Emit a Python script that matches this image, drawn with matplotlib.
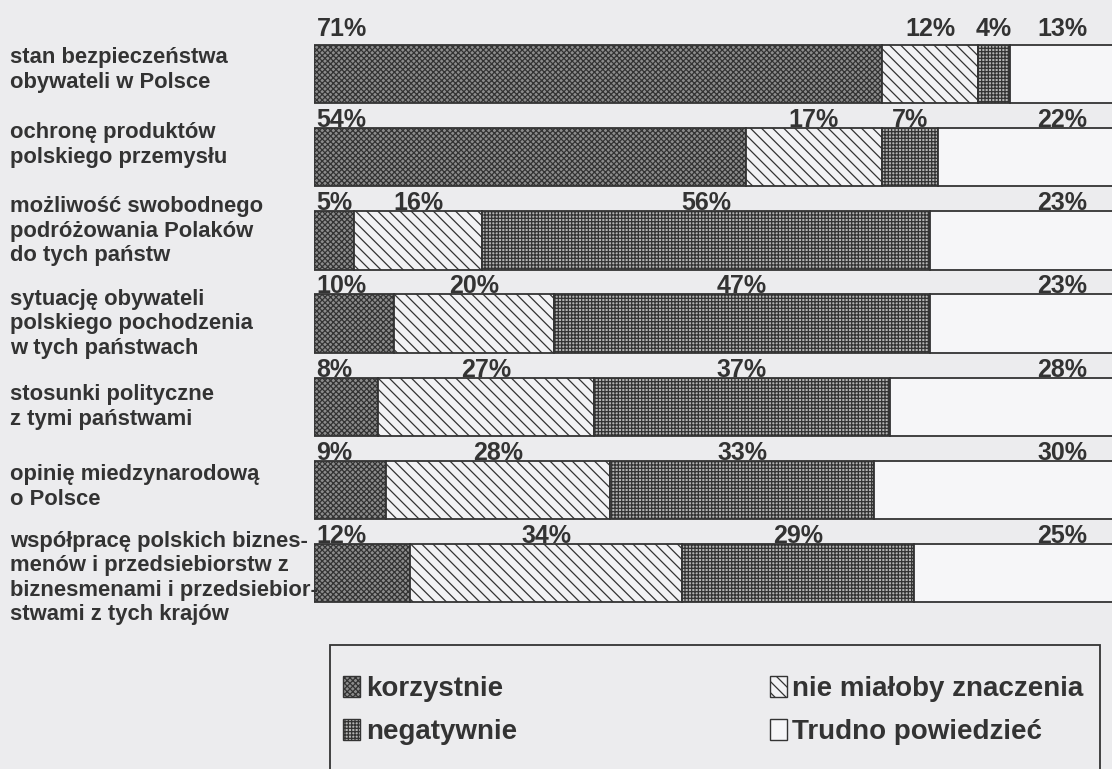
import matplotlib
matplotlib.use("Agg")
import matplotlib.pyplot as plt
from matplotlib.patches import Patch, Rectangle
from matplotlib import transforms

# ---- data ----
categories = [
    "stan bezpieczeństwa\nobywateli w Polsce",
    "ochronę produktów\npolskiego przemysłu",
    "możliwość swobodnego\npodróżowania Polaków\ndo tych państw",
    "sytuację obywateli\npolskiego pochodzenia\nw tych państwach",
    "stosunki polityczne\nz tymi państwami",
    "opinię miedzynarodową\no Polsce",
    "współpracę polskich biznes-\nmenów i przedsiebiorstw z\nbiznesmenami i przedsiebior-\nstwami z tych krajów",
]
series_names = ["korzystnie", "nie miałoby znaczenia", "negatywnie", "Trudno powiedzieć"]
korzystnie = [71, 54, 5, 10, 8, 9, 12]
nie_mialoby = [12, 17, 16, 20, 27, 28, 34]
negatywnie = [4, 7, 56, 47, 37, 33, 29]
trudno = [13, 22, 23, 23, 28, 30, 25]

# ---- layout tweaks (pixels) ----
label_nudge_px = [4, 12, 9, 0, 0, 3, -5]   # upward shift of category labels
pct_lift_px = [9, 1, 1, 1, 1, 1, 1]        # gap between value labels and bar top

# ---- style ----
BG = "#ececee"
INK = "#333333"
plt.rcParams["font.family"] = ["Liberation Sans", "DejaVu Sans"]
plt.rcParams["hatch.linewidth"] = 0.9

W, H = 1112, 769
fig = plt.figure(figsize=(W / 100, H / 100), dpi=100, facecolor=BG)

n = len(categories)
unit = 83.2
top_px = 74 - unit / 2
ax_h_px = unit * n
ax = fig.add_axes([314 / W, 1 - (top_px + ax_h_px) / H, 800 / W, ax_h_px / H])
ax.set_facecolor("none")
ax.set_xlim(0, 100)
ax.set_ylim(n - 0.5, -0.5)
ax.axis("off")

styles = [
    dict(facecolor="#8c8c8c", hatch="xxxxxx"),
    dict(facecolor="#f2f2f4", hatch="\\\\\\"),
    dict(facecolor="#b4b4b4", hatch="+++++"),
    dict(facecolor="#f6f6f8", hatch=None),
]
series = [korzystnie, nie_mialoby, negatywnie, trudno]
bar_h = 0.70
ys = list(range(n))
left = [0] * n
for vals, st in zip(series, styles):
    ax.barh(ys, vals, left=left, height=bar_h, edgecolor=INK, linewidth=1.3,
            **st)
    left = [l + v for l, v in zip(left, vals)]

# percent labels
for i in range(n):
    vals = [s[i] for s in series]
    starts = [sum(vals[:k]) for k in range(4)]
    ytop = i - bar_h / 2
    tr = transforms.offset_copy(ax.transData, fig=fig, x=0,
                                y=pct_lift_px[i], units="dots")
    for k, v in enumerate(vals):
        if k == 0:
            x, ha = starts[k] + 0.3, "left"
        elif k == 3:
            x, ha = 93.5, "center"
        else:
            x, ha = starts[k] + v / 2, "center"
        ax.text(x, ytop, f"{v}%", ha=ha, va="baseline", fontsize=18,
                fontweight="bold", color=INK, transform=tr)

# category labels
bt = transforms.blended_transform_factory(fig.transFigure, ax.transData)
for i, lab in enumerate(categories):
    tr = transforms.offset_copy(bt, fig=fig, x=0, y=label_nudge_px[i], units="dots")
    ax.text(10 / W, i, lab, transform=tr, ha="left", va="center",
            fontsize=15.8, fontweight="bold", color=INK, linespacing=1.22)

# legend box
fig.patches.append(Rectangle((330 / W, -0.05), (1100 - 330) / W, 0.05 + 1 - 645 / H,
                             transform=fig.transFigure, facecolor="none",
                             edgecolor=INK, linewidth=1.3))
handles = [Patch(edgecolor=INK, linewidth=1.0, **st) for st in styles]
order = [0, 2, 1, 3]
leg = fig.legend([handles[k] for k in order], [series_names[k] for k in order],
                 ncol=2, loc="upper left", bbox_to_anchor=(343 / W, 1 - 676 / H),
                 frameon=False, fontsize=20, handlelength=0.62, handleheight=0.78,
                 handletextpad=0.2, columnspacing=9.1, labelspacing=0.6,
                 borderpad=0, borderaxespad=0)
for t in leg.get_texts():
    t.set_fontweight("bold")
    t.set_color(INK)

fig.savefig("out.png", dpi=100, facecolor=BG)
